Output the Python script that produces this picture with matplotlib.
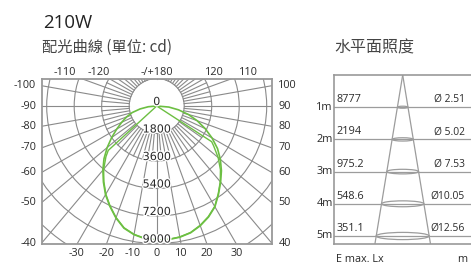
import numpy as np
import matplotlib
matplotlib.use("Agg")
import matplotlib.pyplot as plt
from matplotlib.patches import Circle, Ellipse
import matplotlib.patheffects as pe

# ---------------- data ----------------
angles_a = list(range(-90, 91, 5))
cd_a = [0, 550, 1100, 1660, 2100, 2530, 3020, 3600, 4230, 4880, 5480, 6080,
        6700, 7250, 7800, 8280, 8550, 8720, 8777, 8780, 8720, 8590, 8340, 8020,
        7620, 7050, 6510, 5990, 5440, 4860, 4180, 3500, 2820, 2150, 1450, 800, 0]
angles_b = [-90, -47.5, -45, -40, -35, -30, -25, -20, -15, -10, -5, 0, 5, 10,
            15, 20, 25, 30, 35, 40, 45, 50, 55, 57, 90]
cd_b = [0, 4300, 4700, 5400, 6030, 6660, 7220, 7770, 8250, 8530, 8700, 8760,
        8760, 8700, 8570, 8310, 7990, 7590, 7020, 6470, 5900, 5250, 4550, 4290, 0]
ring_values = [0, 1800, 3600, 5400, 7200, 9000]
left_angles = [-40, -50, -60, -70, -80, -90, -100]
right_angles = [40, 50, 60, 70, 80, 90, 100]
bottom_angles = [-30, -20, -10, 0, 10, 20, 30]
top_angles = [-110, -120, 180, 120, 110]
top_labels = ['-110', '-120', '-/+180', '120', '110']

distances = [1, 2, 3, 4, 5]
dist_labels = ['1m', '2m', '3m', '4m', '5m']
emax = ['8777', '2194', '975.2', '548.6', '351.1']
diam = ['Ø 2.51', 'Ø 5.02', 'Ø 7.53', 'Ø10.05', 'Ø12.56']

# ---------------- figure ----------------
W, H = 471, 265
fig = plt.figure(figsize=(W / 100, H / 100), dpi=100)
LAT = 'Open Sans'
CJK = ['Noto Sans CJK TC', 'DejaVu Sans']
GRID = '#8a8a8a'
FRAME = '#999999'
TXT = '#2a2a2a'
GREEN = '#6cbf42'

def fx(px):
    return px / W

def fy(py):
    return 1 - py / H

fig.text(fx(43), fy(28), '210W', fontsize=13.4, family=LAT, color='#222222', va='baseline')
fig.text(fx(42), fy(47.5), '配光曲線 (單位: cd)', fontsize=11, family=CJK, color='#444444', va='center')
fig.text(fx(334), fy(47.5), '水平面照度', fontsize=11.5, family=CJK, color='#444444', va='center')

# ---------------- polar candela diagram ----------------
L, R, T, B = 41.7, 271.7, 79.3, 244.3
cx, cy = 156.7, 106.0
s = 1800 / 27.5  # cd per pixel
ax = fig.add_axes([fx(L), fy(B), (R - L) / W, (B - T) / H])
ax.set_xlim((L - cx) * s, (R - cx) * s)
ax.set_ylim(-(B - cy) * s, (cy - T) * s)
xmin, xmax = ax.get_xlim()
ymin, ymax = ax.get_ylim()
ax.set_xticks([])
ax.set_yticks([])
for sp in ax.spines.values():
    sp.set_color(FRAME)
    sp.set_linewidth(1.3)

def xy(theta_deg, r):
    t = np.deg2rad(np.asarray(theta_deg, dtype=float))
    r = np.asarray(r, dtype=float)
    return r * np.sin(t), -r * np.cos(t)

for k in range(1, 8):
    ax.add_patch(Circle((0, 0), 1800 * k, fill=False, ec=GRID, lw=0.8))
for a in range(0, 360, 5):
    r1 = 14000 if a % 10 == 0 else 3600
    x, y = xy([a, a], [1800, r1])
    ax.plot(x, y, color=GRID, lw=0.8)

x, y = xy(angles_a, cd_a)
ax.plot(x, y, color=GREEN, lw=1.2, solid_joinstyle='round')
x, y = xy(angles_b, cd_b)
ax.plot(x, y, color=GREEN, lw=1.0, solid_joinstyle='round')

for v in ring_values:
    ax.text(0, -v + 4 * s, str(v), fontsize=8, family='DejaVu Sans', color=TXT,
            ha='center', va='center',
            path_effects=[pe.withStroke(linewidth=2, foreground='white')])

# angle labels
for a in left_angles:
    t = np.deg2rad(a)
    yy = -np.cos(t) * (xmin / np.sin(t))
    ax.text((36 - cx) * s, yy, str(a), fontsize=7.8, family=LAT, color=TXT,
            ha='right', va='center', clip_on=False)
for a in right_angles:
    t = np.deg2rad(a)
    yy = -np.cos(t) * (xmax / np.sin(t))
    ax.text((278.3 - cx) * s, yy, str(a), fontsize=7.8, family=LAT, color=TXT,
            ha='left', va='center', clip_on=False)
for a in bottom_angles:
    t = np.deg2rad(a)
    xx = np.sin(t) * (ymin / -np.cos(t))
    ax.text(xx, (cy - 253.3) * s, str(a), fontsize=7.8, family=LAT, color=TXT,
            ha='center', va='center', clip_on=False)
ytop = (cy - 72.7) * s
for a, lab in zip(top_angles, top_labels):
    t = np.deg2rad(a)
    xx = 0.0 if a == 180 else np.sin(t) * (ytop / -np.cos(t))
    ax.text(xx, ytop, lab, fontsize=7.8, family=LAT, color=TXT,
            ha='center', va='center', clip_on=False)

# ---------------- illuminance cone ----------------
L2, T2, B2 = 334.3, 75.0, 244.3
pm = (236.0 - T2) / 5  # px per metre
ax2 = fig.add_axes([fx(L2), fy(B2), (W - L2) / W, (B2 - T2) / H])
ax2.set_xlim(0, (W - L2) / pm)
ax2.set_ylim((B2 - T2) / pm, 0)
ax2.set_xticks([])
ax2.set_yticks([])
for k, sp in ax2.spines.items():
    sp.set_color(FRAME)
    sp.set_linewidth(1.2)
ax2.spines['right'].set_visible(False)

apex = (402.7 - L2) / pm
slope = 27.85 / (B2 - T2)
dmax = (B2 - T2) / pm
LINE = '#9c9c9c'
ax2.plot([apex, apex - slope * dmax], [0, dmax], color=LINE, lw=0.9)
ax2.plot([apex, apex + slope * dmax], [0, dmax], color=LINE, lw=0.9)
xend = (W - L2) / pm
for d, dl, e, dm in zip(distances, dist_labels, emax, diam):
    ax2.plot([0, xend], [d, d], color=LINE, lw=0.9)
    ax2.add_patch(Ellipse((apex, d), 2 * slope * d, (1.3 * d + 0.7) / pm,
                          fill=False, ec=LINE, lw=0.9))
    ax2.text(-1.6 / pm, d, dl, fontsize=7.8, family=LAT, color=TXT,
             ha='right', va='center', clip_on=False)
    ax2.text(2.4 / pm, d - 2.0 / pm, e, fontsize=7.8, family=LAT, color=TXT,
             ha='left', va='bottom')
    ax2.text((464.5 - L2) / pm, d - 2.0 / pm, dm, fontsize=7.4, family=LAT,
             color=TXT, ha='right', va='bottom')

fig.text(fx(336), fy(259.5), 'E max. Lx', fontsize=7.8, family=LAT, color=TXT, va='center')
fig.text(fx(467), fy(259.5), 'm', fontsize=7.8, family=LAT, color=TXT, va='center', ha='right')

fig.savefig('out.png', dpi=100)
